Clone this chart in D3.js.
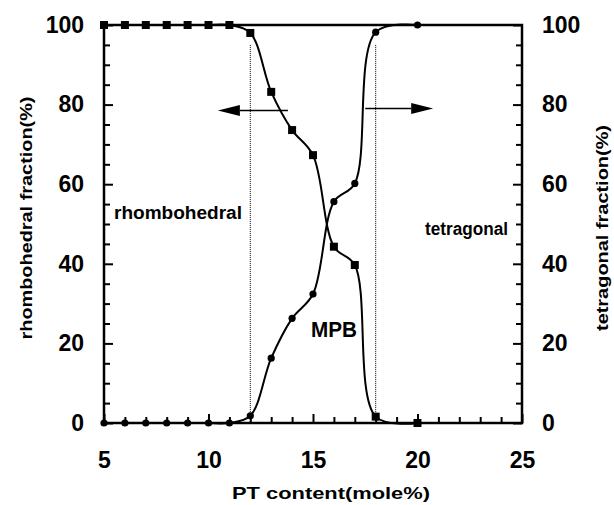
<!DOCTYPE html>
<html>
<head>
<meta charset="utf-8">
<script src="https://cdn.jsdelivr.net/npm/d3@7"></script>
<style>
    body { margin: 0; background: #fff; }
    svg text { font-family: "Liberation Sans", Arial, Helvetica, sans-serif; font-weight: bold; fill: #000; }
</style>
</head>
<body>
<div id="chart"></div>
<script>
'use strict';

// PT content (mole%)
const rhomboX = [5, 6, 7, 8, 9, 10, 11, 12, 13, 14, 15, 16, 17, 18, 20];
const rhomboY = [100, 100, 100, 100, 100, 100, 100, 98, 83.2, 73.6, 67.3, 44.3, 39.7, 1.6, 0];
const tetraX = [5, 6, 7, 8, 9, 10, 11, 12, 13, 14, 15, 16, 17, 18, 20];
const tetraY = [0, 0, 0, 0, 0, 0, 0, 1.8, 16.3, 26.3, 32.4, 55.6, 60.2, 98.2, 100];

const boundaries = [12, 18];
const xTicks = [5, 10, 15, 20, 25];
const yTicks = [0, 20, 40, 60, 80, 100];

(function () {
    const width = 614;
    const height = 505;
    const margin = { top: 25, right: 92, bottom: 82, left: 104 };
    const innerW = width - margin.left - margin.right;
    const innerH = height - margin.top - margin.bottom;

    const svg = d3.select('#chart').append('svg')
        .attr('width', width)
        .attr('height', height);

    const g = svg.append('g')
        .attr('transform', 'translate(' + margin.left + ',' + margin.top + ')');

    const x = d3.scaleLinear().domain([5, 25]).range([0, innerW]);
    const y = d3.scaleLinear().domain([0, 100]).range([innerH, 0]);

    // 次刻度
    const xMinor = d3.range(5, 26, 1).filter(function (v) { return xTicks.indexOf(v) < 0; });
    const yMinor = d3.range(0, 101, 5).filter(function (v) { return yTicks.indexOf(v) < 0; });

    function styleAxis(sel) {
        sel.select('.domain').remove();
        sel.selectAll('line').attr('stroke', '#000').attr('stroke-width', 2);
        sel.selectAll('text').style('font-size', '23px');
    }

    // 坐标轴
    g.append('g').attr('transform', 'translate(0,' + innerH + ')')
        .call(d3.axisBottom(x).tickValues(xTicks).tickSize(-9).tickPadding(29).tickFormat(d3.format('d')))
        .call(styleAxis);
    g.append('g').attr('transform', 'translate(0,' + innerH + ')')
        .call(d3.axisBottom(x).tickValues(xMinor).tickSize(-6).tickFormat(''))
        .call(styleAxis);
    g.append('g')
        .call(d3.axisLeft(y).tickValues(yTicks).tickSize(-9).tickPadding(20).tickFormat(d3.format('d')))
        .call(styleAxis);
    g.append('g')
        .call(d3.axisLeft(y).tickValues(yMinor).tickSize(-6).tickFormat(''))
        .call(styleAxis);
    g.append('g').attr('transform', 'translate(' + innerW + ',0)')
        .call(d3.axisRight(y).tickValues(yTicks).tickSize(-9).tickPadding(20).tickFormat(d3.format('d')))
        .call(styleAxis);
    g.append('g').attr('transform', 'translate(' + innerW + ',0)')
        .call(d3.axisRight(y).tickValues(yMinor).tickSize(-6).tickFormat(''))
        .call(styleAxis);

    // 边框
    g.append('rect')
        .attr('width', innerW)
        .attr('height', innerH)
        .attr('fill', 'none')
        .attr('stroke', '#000')
        .attr('stroke-width', 2.5);

    // 相界虚线
    g.selectAll('.boundary').data(boundaries).enter().append('line')
        .attr('class', 'boundary')
        .attr('x1', function (d) { return x(d); })
        .attr('x2', function (d) { return x(d); })
        .attr('y1', y(95))
        .attr('y2', y(0))
        .attr('stroke', '#000')
        .attr('stroke-width', 1)
        .attr('stroke-dasharray', '1,1');

    const line = d3.line()
        .x(function (d) { return x(d[0]); })
        .y(function (d) { return y(d[1]); })
        .curve(d3.curveCatmullRom.alpha(0.5));

    const rhombo = d3.zip(rhomboX, rhomboY);
    const tetra = d3.zip(tetraX, tetraY);

    [rhombo, tetra].forEach(function (pts) {
        g.append('path')
            .datum(pts)
            .attr('d', line)
            .attr('fill', 'none')
            .attr('stroke', '#000')
            .attr('stroke-width', 2);
    });

    g.selectAll('.sq').data(rhombo).enter().append('rect')
        .attr('class', 'sq')
        .attr('x', function (d) { return x(d[0]) - 4; })
        .attr('y', function (d) { return y(d[1]) - 4; })
        .attr('width', 8)
        .attr('height', 8)
        .attr('fill', '#000');

    g.selectAll('.dot').data(tetra).enter().append('circle')
        .attr('class', 'dot')
        .attr('cx', function (d) { return x(d[0]); })
        .attr('cy', function (d) { return y(d[1]); })
        .attr('r', 3.6)
        .attr('fill', '#000');

    // 箭头：[起点x, 终点x, y]
    const arrows = [[13.8, 10.45, 78.5], [17.5, 20.75, 79]];
    arrows.forEach(function (a) {
        var x1 = x(a[0]), x2 = x(a[1]), yy = y(a[2]);
        var dir = x2 > x1 ? 1 : -1;
        var headLen = 22;
        g.append('line')
            .attr('x1', x1).attr('y1', yy)
            .attr('x2', x2 - dir * headLen).attr('y2', yy)
            .attr('stroke', '#000').attr('stroke-width', 1.5);
        g.append('path')
            .attr('d', 'M' + x2 + ',' + yy +
                'L' + (x2 - dir * headLen) + ',' + (yy - 5.5) +
                'L' + (x2 - dir * headLen) + ',' + (yy + 5.5) + 'Z')
            .attr('fill', '#000');
    });

    function label(txt, px, py, size, len, rotate) {
        var t = svg.append('text')
            .attr('x', px)
            .attr('y', py)
            .style('font-size', size + 'px')
            .attr('textLength', len)
            .attr('lengthAdjust', 'spacingAndGlyphs')
            .text(txt);
        if (rotate) {
            t.attr('text-anchor', 'middle')
                .attr('transform', 'rotate(-90,' + px + ',' + py + ')');
        }
        return t;
    }

    label('rhombohedral', 114, 219, 18, 128);
    label('tetragonal', 425, 235, 18, 83);
    label('MPB', 311, 337, 22, 46);
    label('PT content(mole%)', 232, 499, 17, 198);
    label('rhombohedral fraction(%)', 32, 218, 17, 243, true);
    label('tetragonal fraction(%)', 608, 228, 17, 206, true);
})();
</script>
</body>
</html>
